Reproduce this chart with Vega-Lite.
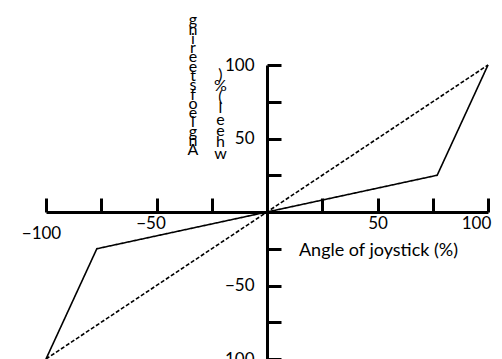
{
  "$schema": "https://vega.github.io/schema/vega-lite/v6.json",
  "width": 442,
  "height": 294,
  "autosize": "none",
  "padding": {"left": 46, "top": 65, "right": 14, "bottom": 0},
  "background": "white",
  "config": {
    "view": {"stroke": null},
    "font": "Lato"
  },
  "title": {
    "text": ["g","n","i","r","e","e","t","s"," ","f","o"," ","e","l","g","n","A"],
    "anchor": "start",
    "frame": "group",
    "orient": "top",
    "align": "center",
    "baseline": "bottom",
    "offset": 0,
    "dx": 147,
    "dy": 137,
    "fontSize": 16,
    "fontWeight": "normal",
    "font": "Lato",
    "lineHeight": 9.3,
    "color": "black"
  },
  "data": {
    "values": [
      {"series": "actual", "x": -100, "y": -100},
      {"series": "actual", "x": -77, "y": -25},
      {"series": "actual", "x": 0, "y": 0},
      {"series": "actual", "x": 77, "y": 25},
      {"series": "actual", "x": 100, "y": 100},
      {"series": "linear", "x": -100, "y": -100},
      {"series": "linear", "x": 100, "y": 100}
    ]
  },
  "mark": {"type": "line", "color": "black", "strokeWidth": 1.6, "clip": false},
  "encoding": {
    "x": {
      "field": "x",
      "type": "quantitative",
      "scale": {"domain": [-100, 100], "nice": false, "zero": false},
      "axis": {
        "orient": "bottom",
        "offset": -147,
        "values": [-100, -75, -50, -25, 0, 25, 50, 75, 100],
        "labelExpr": "datum.value % 50 === 0 && datum.value !== 0 ? datum.label : ''",
        "grid": false,
        "domainColor": "black",
        "domainWidth": 3,
        "tickColor": "black",
        "tickWidth": 3,
        "tickSize": -14,
        "labelFontSize": 17,
        "labelFont": "Lato",
        "labelColor": "black",
        "labelPadding": {"condition": {"test": "datum.value === -100", "value": 27}, "value": 17},
        "labelOffset": {"condition": [{"test": "datum.value === 100", "value": -12}, {"test": "datum.value === -50", "value": -6}, {"test": "datum.value === -100", "value": -5}], "value": 0},
        "labelFlush": false,
        "labelOverlap": false,
        "title": "Angle of joystick (%)",
        "titleFont": "Lato",
        "titleFontSize": 18,
        "titleFontWeight": "normal",
        "titleColor": "black",
        "titleAlign": "center",
        "titleBaseline": "alphabetic",
        "titleX": 332,
        "titleY": 43
      }
    },
    "y": {
      "field": "y",
      "type": "quantitative",
      "scale": {"domain": [-100, 100], "nice": false, "zero": false},
      "axis": {
        "orient": "left",
        "offset": -221,
        "values": [-100, -75, -50, -25, 0, 25, 50, 75, 100],
        "labelExpr": "datum.value % 50 === 0 && datum.value !== 0 ? datum.label : ''",
        "grid": false,
        "domainColor": "black",
        "domainWidth": 3,
        "tickColor": "black",
        "tickWidth": 3,
        "tickSize": -14,
        "labelFontSize": 17,
        "labelFont": "Lato",
        "labelColor": "black",
        "labelPadding": 27,
        "labelFlush": false,
        "labelOverlap": false,
        "title": [")", "%", "(", " ", "l", "e", "e", "h", "w"],
        "titleFont": "Lato",
        "titleFontSize": 16,
        "titleFontWeight": "normal",
        "titleColor": "black",
        "titleAngle": 0,
        "titleAlign": "center",
        "titleBaseline": "bottom",
        "titleLineHeight": 11.3,
        "titleX": -47,
        "titleY": 17
      }
    },
    "detail": {"field": "series"},
    "strokeDash": {
      "field": "series",
      "type": "nominal",
      "scale": {"domain": ["actual", "linear"], "range": [[1, 0], [4, 2]]},
      "legend": null
    }
  }
}
